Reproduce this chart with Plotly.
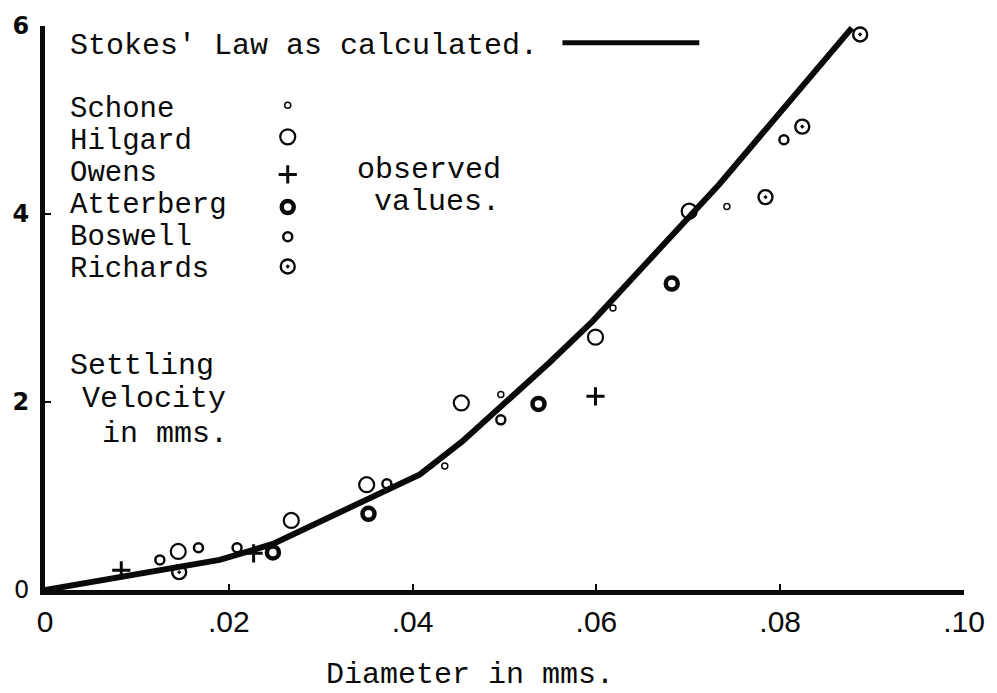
import plotly.graph_objects as go

# Stokes' law curve (diameter in mm, settling velocity in mm/s)
stokes_d = [0.0, 0.019, 0.0248, 0.0332, 0.0408, 0.0454, 0.0549, 0.0596, 0.0734, 0.0878]
stokes_v = [0.0, 0.32, 0.49, 0.87, 1.23, 1.58, 2.42, 2.86, 4.32, 5.98]

# Observed values by investigator
schone_d = [0.0435, 0.0496, 0.0618, 0.0742]
schone_v = [1.32, 2.08, 3.00, 4.08]

hilgard_d = [0.0145, 0.0268, 0.0350, 0.0453, 0.0599, 0.0701]
hilgard_v = [0.41, 0.74, 1.12, 1.99, 2.69, 4.03]

owens_d = [0.0083, 0.0227, 0.0599]
owens_v = [0.21, 0.39, 2.06]

atterberg_d = [0.0248, 0.0352, 0.0537, 0.0682]
atterberg_v = [0.40, 0.81, 1.98, 3.26]

boswell_d = [0.0125, 0.0167, 0.0209, 0.0372, 0.0496, 0.0804]
boswell_v = [0.32, 0.45, 0.45, 1.13, 1.81, 4.79]

richards_d = [0.0146, 0.0784, 0.0824, 0.0887]
richards_v = [0.19, 4.18, 4.93, 5.91]

x_ticks = [0, 0.02, 0.04, 0.06, 0.08, 0.10]
x_tick_text = ["0", ".02", ".04", ".06", ".08", ".10"]
y_ticks = [0, 2, 4, 6]
y_tick_text = ["0", "<b>2</b>", "<b>4</b>", "<b>6</b>"]

legend_names = ["Schone", "Hilgard", "Owens", "Atterberg", "Boswell", "Richards"]

TYPE = "Liberation Mono, DejaVu Sans Mono, monospace"
INK = "#0a0a0a"

# marker styles per investigator
styles = {
    "Schone": dict(symbol="circle-open", size=6, line=dict(width=1.5, color=INK)),
    "Hilgard": dict(symbol="circle-open", size=15, line=dict(width=2.2, color=INK)),
    "Owens": dict(symbol="cross-thin-open", size=13, line=dict(width=3, color=INK)),
    "Atterberg": dict(symbol="circle-open", size=12, line=dict(width=4.5, color=INK)),
    "Boswell": dict(symbol="circle-open", size=9, line=dict(width=2.5, color=INK)),
    "Richards": dict(symbol="circle-open-dot", size=14, line=dict(width=2.4, color=INK)),
}
series = {
    "Schone": (schone_d, schone_v),
    "Hilgard": (hilgard_d, hilgard_v),
    "Owens": (owens_d, owens_v),
    "Atterberg": (atterberg_d, atterberg_v),
    "Boswell": (boswell_d, boswell_v),
    "Richards": (richards_d, richards_v),
}

# page geometry (pixels) for the plotting area
W, H = 997, 693
L, R, T, B = 45, 32, 20, 103
pw, ph = W - L - R, H - T - B


def px(x):
    return (x - L) / pw


def py(y):
    return (H - B - y) / ph


fig = go.Figure()

fig.add_trace(go.Scatter(
    x=stokes_d, y=stokes_v, mode="lines",
    line=dict(color=INK, width=6), showlegend=False, hoverinfo="skip",
))

for name in legend_names:
    d, v = series[name]
    fig.add_trace(go.Scatter(
        x=d, y=v, mode="markers", name=name,
        marker=dict(color=INK, **styles[name]),
        showlegend=False, cliponaxis=False,
    ))

# hand-set key: names followed by their symbol
row_y = [104, 136.5, 169, 201.5, 234, 266.5]
sym_y = [100, 132, 170, 203, 233, 263]
for name, ry, sy in zip(legend_names, row_y, sym_y):
    fig.add_annotation(x=px(68), y=py(ry), xref="paper", yref="paper",
                       text=name, showarrow=False, xanchor="left", yanchor="middle",
                       font=dict(family=TYPE, size=29, color=INK))
    fig.add_trace(go.Scatter(
        x=[px(288)], y=[py(sy)], xaxis="x2", yaxis="y2", mode="markers",
        marker=dict(color=INK, **styles[name]), showlegend=False, hoverinfo="skip",
    ))

texts = [
    ("Stokes' Law as calculated.", 68, 40),
    ("observed", 355, 166),
    ("values.", 372, 198),
    ("Settling", 68, 364),
    ("Velocity", 80, 397),
    ("in mms.", 100, 432),
]
for t, x, y in texts:
    fig.add_annotation(x=px(x), y=py(y), xref="paper", yref="paper",
                       text=t, showarrow=False, xanchor="left", yanchor="middle",
                       font=dict(family=TYPE, size=30, color=INK))

fig.add_annotation(x=px(470), y=py(676), xref="paper", yref="paper",
                   text="Diameter in mms.", showarrow=False,
                   xanchor="center", yanchor="middle",
                   font=dict(family=TYPE, size=30, color=INK))

# key line for the calculated curve
fig.add_shape(type="line", xref="paper", yref="paper",
              x0=px(563), x1=px(700), y0=py(37), y1=py(37),
              line=dict(color=INK, width=5))

fig.update_layout(
    width=W, height=H,
    margin=dict(l=L, r=R, t=T, b=B),
    paper_bgcolor="white", plot_bgcolor="white",
    showlegend=False,
    xaxis=dict(
        range=[0, 0.10], tickvals=x_ticks, ticktext=x_tick_text,
        showgrid=False, zeroline=False,
        showline=True, linewidth=5, linecolor=INK,
        ticks="inside", ticklen=6, tickwidth=1.5, tickcolor=INK,
        ticklabelstandoff=1,
        tickfont=dict(family="Liberation Sans Narrow, Liberation Sans, sans-serif", size=30, color=INK),
    ),
    yaxis=dict(
        range=[0, 6], tickvals=y_ticks, ticktext=y_tick_text,
        showgrid=False, zeroline=False,
        showline=True, linewidth=5, linecolor=INK,
        ticks="inside", ticklen=6, tickwidth=1.5, tickcolor=INK,
        ticklabelstandoff=6,
        tickfont=dict(family="DejaVu Sans, sans-serif", size=24, color=INK),
    ),
    xaxis2=dict(range=[0, 1], overlaying="x", visible=False, domain=[0, 1]),
    yaxis2=dict(range=[0, 1], overlaying="y", visible=False, domain=[0, 1]),
)

fig.write_html("out.html")
